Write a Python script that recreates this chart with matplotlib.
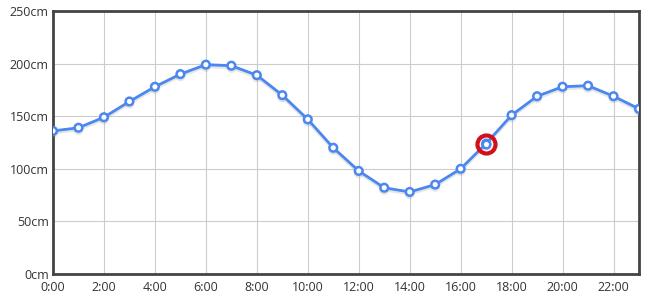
import matplotlib
matplotlib.use("Agg")
import matplotlib.pyplot as plt
import matplotlib.patheffects as pe

hours = list(range(24))
levels = [136, 139, 149, 164, 178, 190, 199, 198, 189, 170, 147, 120,
          98, 82, 78, 85, 100, 124, 151, 169, 178, 179, 169, 157]
highlight_hour = 17
y_ticks = [0, 50, 100, 150, 200, 250]
y_labels = [f"{v}cm" for v in y_ticks]
x_ticks = list(range(0, 24, 2))
x_labels = [f"{h}:00" for h in x_ticks]

plt.rcParams['font.family'] = ['Open Sans', 'DejaVu Sans']

fig = plt.figure(figsize=(6.5, 3.02), dpi=100)
ax = fig.add_axes([53/650, 28/302, (639-53)/650, (274-11)/302])

line_color = '#4a87f0'
ax.plot(hours, levels, color=line_color, lw=2, zorder=3,
        marker='o', ms=5.5, mfc='white', mec=line_color, mew=1.8,
        path_effects=[pe.SimpleLineShadow(offset=(0, -1.5), shadow_color='#999999', alpha=0.25),
                      pe.Normal()])
hi = hours.index(highlight_hour)
ax.plot([hours[hi]], [levels[hi]], marker='o', ms=13, mfc='none', mec='#d0101a', mew=3, zorder=4)
ax.plot([hours[hi]], [levels[hi]], marker='o', ms=5.5, mfc='white', mec=line_color, mew=1.8, zorder=5)

ax.set_xlim(0, 23)
ax.set_ylim(0, 250)
ax.set_xticks(x_ticks)
ax.set_xticklabels(x_labels)
ax.set_yticks(y_ticks)
ax.set_yticklabels(y_labels)
ax.grid(True, color='#cccccc', lw=0.8)
ax.set_axisbelow(True)
ax.tick_params(length=0, labelsize=9, colors='#333333')
ax.tick_params(axis='x', pad=5)
ax.tick_params(axis='y', pad=3)
for s in ax.spines.values():
    s.set_color('#444444')
    s.set_linewidth(2)

fig.savefig('out.png', dpi=100)
